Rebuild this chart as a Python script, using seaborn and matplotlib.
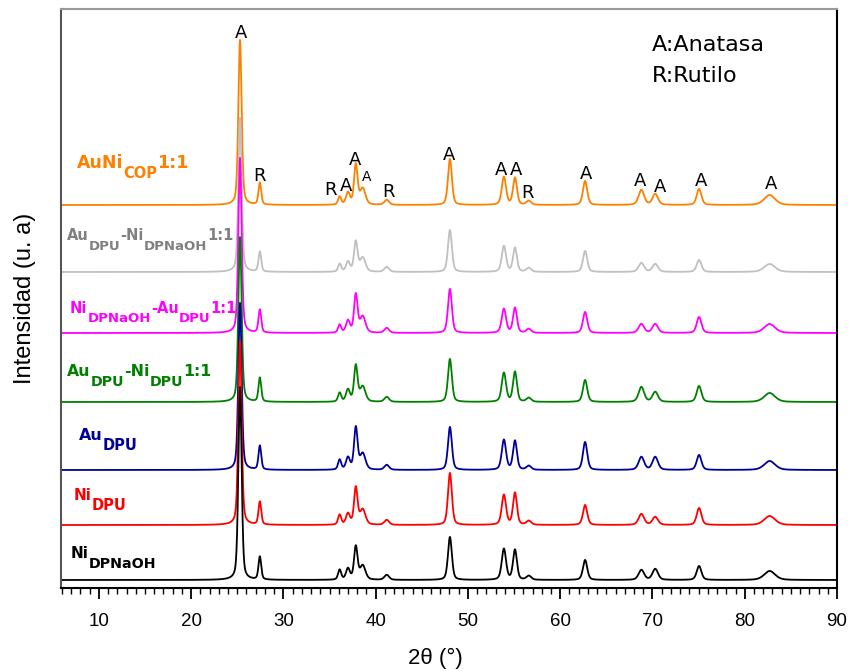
import numpy as np
import pandas as pd
import matplotlib
matplotlib.use('Agg')
import matplotlib.pyplot as plt
import seaborn as sns

# Sample names (top to bottom)
samples = ['AuNi_COP', 'AuDPU-NiDPNaOH', 'NiDPNaOH-AuDPU', 'AuDPU-NiDPU', 'AuDPU', 'NiDPU', 'NiDPNaOH']
# label pieces: (text, is_subscript)
sample_labels = [[('AuNi', 0), ('COP', 1), ('1:1', 0)],
                 [('Au', 0), ('DPU', 1), ('-Ni', 0), ('DPNaOH', 1), ('1:1', 0)],
                 [('Ni', 0), ('DPNaOH', 1), ('-Au', 0), ('DPU', 1), ('1:1', 0)],
                 [('Au', 0), ('DPU', 1), ('-Ni', 0), ('DPU', 1), ('1:1', 0)],
                 [('Au', 0), ('DPU', 1)],
                 [('Ni', 0), ('DPU', 1)],
                 [('Ni', 0), ('DPNaOH', 1)]]
line_colors = ['#FF8000', '#C0C0C0', '#FF00FF', '#008000', '#000099', '#FF0000', '#000000']
label_colors = ['#FF8000', '#808080', '#FF00FF', '#008000', '#000099', '#FF0000', '#000000']

# vertical offset of each pattern (a.u.)
offsets = [383, 316, 255, 186, 118, 63, 8]

# TiO2 reflections (2theta, FWHM)
peak_pos = [25.3, 27.45, 36.1, 37.0, 37.85, 38.6, 41.2, 48.05, 53.9, 55.1, 56.6, 62.7, 68.8, 70.3, 75.05, 82.7]
peak_fwhm = [0.42, 0.35, 0.4, 0.5, 0.45, 0.7, 0.6, 0.5, 0.55, 0.5, 0.6, 0.55, 0.7, 0.7, 0.6, 1.4]

# peak heights (a.u.) per sample
h_auni_cop = [165, 22, 8, 12, 40, 16, 5, 46, 28, 27, 4, 24, 15, 11, 16, 10]
h_audpu_nidpnaoh = [154, 20, 8, 10, 30, 14, 5, 42, 26, 24, 4, 21, 9, 8, 12, 8]
h_nidpnaoh_audpu = [175, 23, 8, 12, 38, 16, 5, 44, 24, 25, 4, 21, 9, 9, 16, 9]
h_audpu_nidpu = [165, 24, 9, 12, 36, 15, 5, 43, 29, 30, 4, 22, 15, 10, 16, 9]
h_audpu = [167, 24, 10, 12, 42, 16, 5, 43, 30, 29, 4, 28, 13, 13, 15, 9]
h_nidpu = [185, 23, 10, 11, 37, 15, 5, 52, 30, 32, 4, 20, 11, 8, 17, 9]
h_nidpnaoh = [193, 23, 10, 11, 33, 14, 5, 43, 31, 30, 4, 20, 10, 11, 14, 9]
heights = [h_auni_cop, h_audpu_nidpnaoh, h_nidpnaoh_audpu, h_audpu_nidpu, h_audpu, h_nidpu, h_nidpnaoh]

# phase markers
mark_text = ['A', 'R', 'R', 'A', 'A', 'A', 'R', 'A', 'A', 'A', 'R', 'A', 'A', 'A', 'A', 'A']
mark_x = [25.4, 27.4, 35.1, 36.8, 37.8, 39.0, 41.4, 48.0, 53.6, 55.2, 56.5, 62.8, 68.7, 70.8, 75.3, 82.9]
mark_y = [555, 412, 398, 402, 428, 411, 396, 433, 418, 418, 395, 414, 407, 401, 407, 404]

two_theta = np.arange(6.0, 90.0001, 0.02)


def pattern(hts):
    y = np.zeros_like(two_theta)
    for p, w, h in zip(peak_pos, peak_fwhm, hts):
        g = np.exp(-4 * np.log(2) * (two_theta - p) ** 2 / w ** 2)
        l = 1 / (1 + 4 * (two_theta - p) ** 2 / w ** 2)
        y += h * (0.6 * g + 0.4 * l)
    return y


rows = []
for name, off, hts in zip(samples, offsets, heights):
    rows.append(pd.DataFrame({'2theta': two_theta, 'I': pattern(hts) + off, 'sample': name}))
df = pd.concat(rows, ignore_index=True)

sns.set_theme(style='white')
plt.rcParams['font.family'] = ['Liberation Sans', 'DejaVu Sans']
plt.rcParams['text.color'] = 'black'
plt.rcParams['axes.labelcolor'] = 'black'
plt.rcParams['xtick.color'] = 'black'

W, H = 851, 671
fig = plt.figure(figsize=(W / 100, H / 100), dpi=100)
ax = fig.add_axes([61 / W, 83 / H, 776 / W, 579 / H])

sns.lineplot(data=df, x='2theta', y='I', hue='sample', hue_order=samples,
             palette=dict(zip(samples, line_colors)), estimator=None,
             legend=False, linewidth=1.3, ax=ax)

# sample labels, built piece by piece so the subscripts sit low like the original
renderer = fig.canvas.get_renderer()
label_px = [(77, 163), (67, 236), (70, 308), (67, 371), (79, 435), (74, 495), (71, 553)]
label_fs = [(12.5, 10.5), (10.5, 9.5), (10.5, 9.5), (11.3, 10.3), (11.5, 10.5), (11, 10.5), (11, 10.3)]
for parts, col, (x0, y0), (fm, fsub) in zip(sample_labels, label_colors, label_px, label_fs):
    x = x0
    for txt, sub in parts:
        yy = y0 + (11 if sub else 0)
        t = fig.text(x / W, 1 - yy / H, txt, color=col, fontsize=fsub if sub else fm,
                     fontweight='bold', family='DejaVu Sans', va='center', ha='left')
        x += t.get_window_extent(renderer).width

for t, mx, my in zip(mark_text, mark_x, mark_y):
    fs = 10 if (t == 'A' and mx == 39.0) else 13
    ax.text(mx, my, t, fontsize=fs, ha='center', va='center', color='black', family='DejaVu Sans')

ax.text(69.9, 543, 'A:Anatasa', fontsize=16, va='center', ha='left', family='DejaVu Sans')
ax.text(69.9, 512, 'R:Rutilo', fontsize=16, va='center', ha='left', family='DejaVu Sans')

ax.set_xlim(5.9, 90)
ax.set_ylim(0, 579)
ax.set_xticks(np.arange(10, 91, 10))
ax.set_xticks(np.arange(6, 91, 1), minor=True)
ax.set_yticks([])
ax.tick_params(axis='x', which='major', direction='out', length=8, width=1.3, labelsize=13.5, pad=10, bottom=True)
ax.tick_params(axis='x', which='minor', direction='out', length=4.5, width=1.0, bottom=True)
ax.set_xlabel('2\u03b8 (\u00b0)', fontsize=16)
ax.xaxis.set_label_coords((435 - 61) / 776, -70 / 579)
ax.xaxis.label.set_verticalalignment('center')
ax.set_ylabel('Intensidad (u. a)', fontsize=17, labelpad=18)

ax.spines['left'].set_color('#555555')
ax.spines['top'].set_color('#999999')
ax.spines['right'].set_color('black')
ax.spines['bottom'].set_color('black')
for s in ax.spines.values():
    s.set_linewidth(1.5)

fig.savefig('out.png', dpi=100)
